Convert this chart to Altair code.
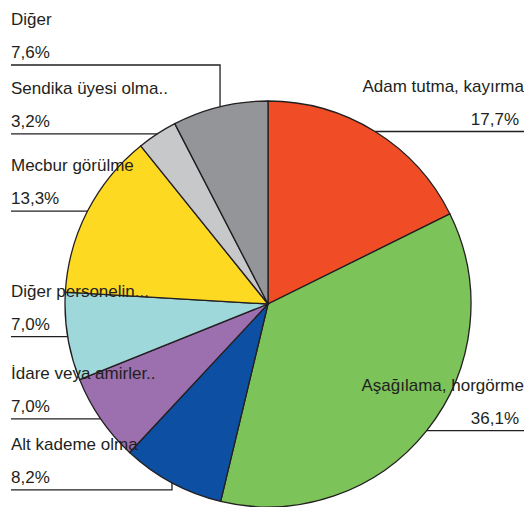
import altair as alt
import numpy as np
import pandas as pd

categories = ["Adam tutma, kayırma", "Aşağılama, horgörme", "Alt kademe olma",
              "İdare veya amirler..", "Diğer personelin...", "Mecbur görülme",
              "Sendika üyesi olma..", "Diğer"]
values = [17.7, 36.1, 8.2, 7.0, 7.0, 13.3, 3.2, 7.6]
pct_labels = ["17,7%", "36,1%", "8,2%", "7,0%", "7,0%", "13,3%", "3,2%", "7,6%"]
colors = ["#f04c25", "#7cc35a", "#0d4fa2", "#9c6fae", "#9fd8da", "#fdd922",
          "#c7c8ca", "#939598"]

W, H = 516, 499
CX, CY, R = 260, 296, 203
GAP = 71
NAME_OFF, PCT_OFF = 40, 7
LEFT_X, LINE_RIGHT_X = 3, 516
NAME_RIGHT_X, PCT_RIGHT_X = 516, 511
INK = "#231f20"
FONT = "Liberation Sans"

vals = np.array(values)
frac = vals / vals.sum()
cum = np.cumsum(frac)
mid = (cum - frac / 2) * 2 * np.pi
ex = CX + R * np.sin(mid)
ey = CY - R * np.cos(mid)
side = np.where(np.sin(mid) > 0, "right", "left")

# label line heights: start at slice edge, push apart to avoid overlap
ly = ey.copy()
for s in ["left", "right"]:
    idx = [i for i in range(len(values)) if side[i] == s]
    above = sorted([i for i in idx if ey[i] < CY], key=lambda i: -ey[i])
    below = sorted([i for i in idx if ey[i] >= CY], key=lambda i: ey[i])
    prev = None
    for i in above:
        if prev is not None:
            ly[i] = min(ey[i], prev - GAP)
        prev = ly[i]
    prev = None
    for i in below:
        if prev is not None:
            ly[i] = max(ey[i], prev + GAP)
        prev = ly[i]
# keep the top label block inside the view
ly = np.maximum(ly, NAME_OFF + 17)

slices = pd.DataFrame({"cat": categories, "value": values, "idx": range(len(values))})

line_rows = []
text_rows = []
for i, c in enumerate(categories):
    end_x = LINE_RIGHT_X if side[i] == "right" else LEFT_X
    for p, (px, py) in enumerate([(ex[i], ey[i]), (ex[i], ly[i]), (end_x, ly[i])]):
        line_rows.append({"cat": c, "pt": p, "x": px, "y": py})
    if side[i] == "right":
        text_rows.append({"side": "right", "txt": c, "x": NAME_RIGHT_X, "y": ly[i] - NAME_OFF})
        text_rows.append({"side": "right", "txt": pct_labels[i], "x": PCT_RIGHT_X, "y": ly[i] - PCT_OFF})
    else:
        text_rows.append({"side": "left", "txt": c, "x": LEFT_X, "y": ly[i] - NAME_OFF})
        text_rows.append({"side": "left", "txt": pct_labels[i], "x": LEFT_X, "y": ly[i] - PCT_OFF})

lines = pd.DataFrame(line_rows)
texts = pd.DataFrame(text_rows)

xs = alt.Scale(domain=[0, W], range=[0, W])
ys = alt.Scale(domain=[0, H], reverse=True)

pie = alt.Chart(slices).mark_arc(outerRadius=R, stroke=INK, strokeWidth=1.3).encode(
    theta=alt.Theta("value:Q", stack=True),
    order=alt.Order("idx:Q"),
    color=alt.Color("cat:N", scale=alt.Scale(domain=categories, range=colors), legend=None),
    x=alt.value(CX),
    y=alt.value(CY),
)

leaders = alt.Chart(lines).mark_line(color=INK, strokeWidth=1.3).encode(
    x=alt.X("x:Q", scale=xs, axis=None),
    y=alt.Y("y:Q", scale=ys, axis=None),
    detail="cat:N",
    order=alt.Order("pt:Q"),
)

left_text = alt.Chart(texts).transform_filter(alt.datum.side == "left").mark_text(
    align="left", baseline="alphabetic", font=FONT, fontSize=17, color=INK
).encode(
    x=alt.X("x:Q", scale=xs, axis=None),
    y=alt.Y("y:Q", scale=ys, axis=None),
    text="txt:N",
)

right_text = alt.Chart(texts).transform_filter(alt.datum.side == "right").mark_text(
    align="right", baseline="alphabetic", font=FONT, fontSize=17, color=INK
).encode(
    x=alt.X("x:Q", scale=xs, axis=None),
    y=alt.Y("y:Q", scale=ys, axis=None),
    text="txt:N",
)

chart = alt.layer(pie, leaders, left_text, right_text).properties(
    width=W, height=H, padding=0, autosize="none"
).configure_view(stroke=None)

chart.save("out.html", embed_options={"renderer": "svg", "actions": False})
